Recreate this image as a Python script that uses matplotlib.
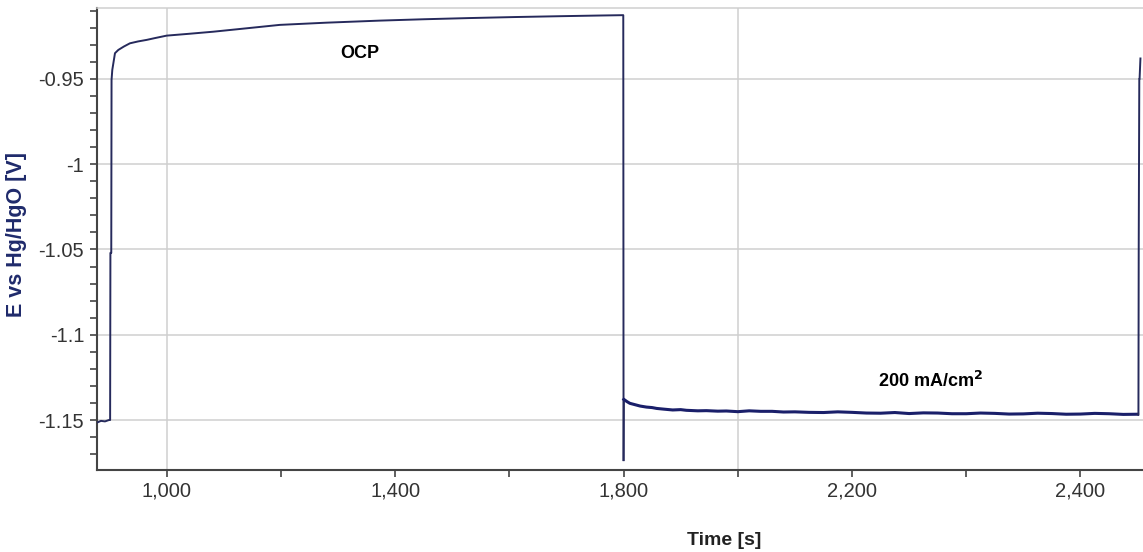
#!/usr/bin/env python3
import matplotlib as mpl
mpl.use("Agg")
from matplotlib import pyplot as plt
from matplotlib.ticker import FixedLocator, FixedFormatter, MultipleLocator

# OCP step: time [s] and E vs Hg/HgO [V]
ocp_time = [878, 885, 892, 899, 901, 901.5, 903, 903.5, 904.8, 909.5, 915.3, 925,
            935.7, 950, 965, 980, 1000, 1040, 1081.6, 1140, 1198, 1280, 1373, 1450,
            1530, 1610, 1690, 1760, 1799.5, 1800]
ocp_pot  = [-1.1515, -1.1505, -1.1508, -1.1500, -1.1500, -1.0520, -1.0520, -0.9506,
            -0.9447, -0.9349, -0.9330, -0.9310, -0.9291, -0.9280, -0.9271, -0.9260,
            -0.9246, -0.9235, -0.9223, -0.9203, -0.9183, -0.9170, -0.9158, -0.9150,
            -0.9143, -0.9137, -0.9132, -0.9128, -0.9126, -1.1735]

# 200 mA/cm2 step
gal_time = [1800, 1800.5, 1806, 1811, 1820, 1829, 1840, 1850, 1858, 1870, 1886, 1900,
            1910, 1930, 1945, 1965, 1980, 2000, 2020, 2040, 2060, 2080, 2100, 2125,
            2150, 2175, 2200, 2225, 2250, 2275, 2300, 2325, 2350, 2375, 2400, 2425,
            2450, 2475, 2500, 2525, 2550, 2575, 2600, 2625, 2650, 2675, 2700]
gal_pot  = [-1.1735, -1.1379, -1.1392, -1.1402, -1.1410, -1.1418, -1.1424, -1.1427,
            -1.1432, -1.1436, -1.1441, -1.1439, -1.1443, -1.1446, -1.1445, -1.1448,
            -1.1447, -1.1451, -1.1446, -1.1449, -1.1449, -1.1453, -1.1452, -1.1455,
            -1.1456, -1.1452, -1.1455, -1.1459, -1.1460, -1.1456, -1.1462, -1.1458,
            -1.1459, -1.1463, -1.1463, -1.1459, -1.1461, -1.1465, -1.1464, -1.1460,
            -1.1462, -1.1466, -1.1465, -1.1461, -1.1463, -1.1467, -1.1466]

# recovery at the end of the current step
rec_time = [2700, 2701.5, 2702, 2703, 2703.5, 2705]
rec_pot  = [-1.1466, -1.1470, -1.0500, -0.9500, -0.9500, -0.9380]

x_ticks      = [1000, 1400, 1800, 2200, 2600]
x_ticklabels = ['1,000', '1,400', '1,800', '2,200', '2,400']
y_ticks      = [-1.15, -1.1, -1.05, -1.0, -0.95]
y_ticklabels = ['-1.15', '-1.1', '-1.05', '-1', '-0.95']

annotations = [('OCP', 1338, -0.9350), ('200 mA/cm$^\\mathbf{2}$', 2338, -1.1271)]

plt.rcParams['font.family'] = ['Liberation Sans', 'DejaVu Sans']

fig = plt.figure(figsize=(11.43, 5.52), dpi=100)
ax  = fig.add_axes([96.7/1143, 1-470/552, 1-96.7/1143, (470-8)/552])

ax.set_xlim(877.5, 2709.5)
ax.set_ylim(-1.1793, -0.9084)

# Grid: horizontal at each labelled potential, vertical every 1000 s
for yv in y_ticks:
    ax.axhline(yv, color='#cfcfcf', lw=1.1, zorder=0)
for xv in [1000, 2000]:
    ax.axvline(xv, color='#cfcfcf', lw=1.1, zorder=0)

ax.plot(ocp_time, ocp_pot, color='#262a5c', lw=1.4, zorder=3)
ax.plot(gal_time[:2], gal_pot[:2], color='#262a5c', lw=1.4, zorder=3)
ax.plot(gal_time[1:], gal_pot[1:], color='#1a1f6a', lw=2.2, zorder=3)
ax.plot(rec_time, rec_pot, color='#262a5c', lw=1.4, zorder=3)

for txt, tx, ty in annotations:
    ax.text(tx, ty, txt, ha='center', va='center', fontsize=13, fontweight='bold', color='black')

# Axes styling
ax.spines['right'].set_visible(False)
ax.spines['top'].set_color('#cfcfcf')
ax.spines['top'].set_linewidth(1.1)
for side in ['left', 'bottom']:
    ax.spines[side].set_color('#444444')
    ax.spines[side].set_linewidth(1.5)

ax.xaxis.set_major_locator(FixedLocator(x_ticks))
ax.xaxis.set_major_formatter(FixedFormatter(x_ticklabels))
ax.xaxis.set_minor_locator(FixedLocator([1200, 1600, 2000, 2400]))
ax.yaxis.set_major_locator(FixedLocator(y_ticks))
ax.yaxis.set_major_formatter(FixedFormatter(y_ticklabels))
ax.yaxis.set_minor_locator(MultipleLocator(0.01))

ax.tick_params(axis='both', which='both', direction='out', length=5, width=1.2,
               color='#444444', labelcolor='#333333', labelsize=14.5)
ax.tick_params(axis='x', pad=3)
ax.tick_params(axis='y', pad=4)

ax.set_xlabel('Time [s]', fontsize=14, fontweight='bold', color='#222222')
ax.xaxis.set_label_coords(0.600, -0.134)
ax.set_ylabel('E vs Hg/HgO [V]', fontsize=15.5, fontweight='bold', color='#1f2a6b')
ax.yaxis.set_label_coords(-0.0665, 0.51)

fig.savefig('out.png', dpi=100)
plt.close(fig)
